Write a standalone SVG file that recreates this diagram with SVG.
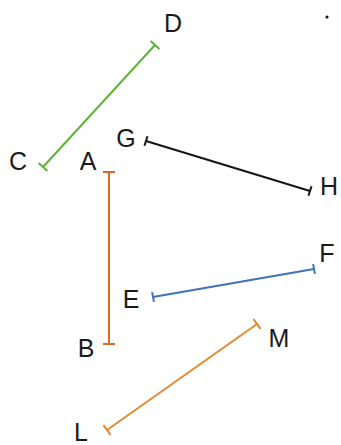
<svg xmlns="http://www.w3.org/2000/svg" width="341" height="445" viewBox="0 0 341 445">
<style>
.lbl{font-family:"Liberation Sans",Arial,sans-serif;font-size:25px;fill:#1a1a1a;text-anchor:middle}
.seg{stroke-width:2;fill:none;stroke-linecap:butt}
</style>
<rect width="341" height="445" fill="#ffffff"/>
<g id="connectors">
<g id="CD" class="seg" stroke="#5cb531">
<line x1="43" y1="167" x2="155" y2="45"/>
<line x1="38.6" y1="162.9" x2="47.4" y2="171.1"/>
<line x1="150.6" y1="40.9" x2="159.4" y2="49.1"/>
</g>
<g id="GH" class="seg" stroke="#151515">
<line x1="146" y1="141" x2="310" y2="191"/>
<line x1="147.5" y1="136.2" x2="144.5" y2="145.8"/>
<line x1="311.5" y1="186.2" x2="308.5" y2="195.8"/>
</g>
<g id="AB" class="seg" stroke="#d9692b">
<line x1="109" y1="172" x2="109" y2="344"/>
<line x1="103" y1="172" x2="115" y2="172"/>
<line x1="103" y1="344" x2="115" y2="344"/>
</g>
<g id="EF" class="seg" stroke="#3f72b8">
<line x1="153" y1="297" x2="314" y2="269"/>
<line x1="152.1" y1="292.1" x2="153.9" y2="301.9"/>
<line x1="313.1" y1="264.1" x2="314.9" y2="273.9"/>
</g>
<g id="LM" class="seg" stroke="#e38a2e">
<line x1="107" y1="430" x2="257" y2="324"/>
<line x1="103.5" y1="425.1" x2="110.5" y2="434.9"/>
<line x1="253.5" y1="319.1" x2="260.5" y2="328.9"/>
</g>
</g>
<g id="labels">
<text id="C" class="lbl" x="18" y="170">C</text>
<text id="D" class="lbl" x="173" y="32">D</text>
<text id="G" class="lbl" x="126" y="147">G</text>
<text id="A" class="lbl" x="88" y="170">A</text>
<text id="H" class="lbl" x="329" y="195">H</text>
<text id="F" class="lbl" x="327" y="262">F</text>
<text id="E" class="lbl" x="131" y="308">E</text>
<text id="B" class="lbl" x="86" y="357">B</text>
<text id="M" class="lbl" x="279" y="347">M</text>
<text id="L" class="lbl" x="81" y="441">L</text>
</g>
<circle cx="327" cy="17" r="1.6" fill="#111"/>
</svg>
